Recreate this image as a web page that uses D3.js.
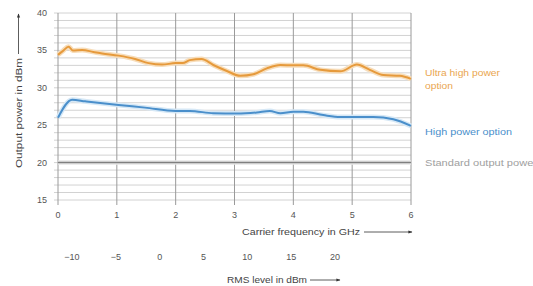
<!DOCTYPE html>
<html>
<head>
<meta charset="utf-8">
<script src="https://cdn.jsdelivr.net/npm/d3@7"></script>
<style>
    body { margin: 0; background: #fff; }
    svg text { font-family: 'Liberation Sans', Arial, sans-serif; }
</style>
</head>
<body>
<svg id="chart" width="533" height="286"></svg>
<script>
// data
let ultraFreq = [0, 0.08, 0.18, 0.25, 0.41, 0.6, 0.75, 1.03, 1.31, 1.54, 1.77, 2.0, 2.12, 2.24, 2.44, 2.64, 2.87, 3.1, 3.32, 3.55, 3.78, 4.0, 4.17, 4.46, 4.8, 5.08, 5.3, 5.53, 5.81, 6.0]
let ultraPower = [34.4, 34.9, 35.5, 35.0, 35.05, 34.8, 34.6, 34.3, 33.85, 33.3, 33.1, 33.3, 33.3, 33.7, 33.85, 33.05, 32.25, 31.6, 31.8, 32.6, 33.05, 33.0, 33.0, 32.4, 32.2, 33.1, 32.4, 31.7, 31.6, 31.2]
let highFreq = [0, 0.24, 0.46, 1.03, 1.48, 2.0, 2.24, 2.64, 3.04, 3.38, 3.6, 3.78, 4.0, 4.17, 4.51, 4.8, 5.36, 5.7, 6.0]
let highPower = [26.0, 28.4, 28.2, 27.7, 27.35, 26.9, 26.9, 26.6, 26.55, 26.7, 26.9, 26.6, 26.8, 26.8, 26.35, 26.1, 26.1, 25.8, 24.9]
let standardFreq = [0, 6]
let standardPower = [20, 20]
let freqTicks = [0, 1, 2, 3, 4, 5, 6]
let powerTicks = [15, 20, 25, 30, 35, 40]
let rmsTicks = [-10, -5, 0, 5, 10, 15, 20]

let svg = d3.select('#chart')
let x = d3.scaleLinear().domain([0, 6]).range([58, 411])
let y = d3.scaleLinear().domain([15, 40]).range([200, 13])
let rms = d3.scaleLinear().domain([-10, 20]).range([72, 335])

// arrow marker
svg.append('defs').append('marker')
    .attr('id', 'arrow').attr('viewBox', '0 0 10 10')
    .attr('refX', 9).attr('refY', 5)
    .attr('markerWidth', 7).attr('markerHeight', 5)
    .attr('orient', 'auto')
    .append('path').attr('d', 'M0,1 L10,5 L0,9 Z').attr('fill', '#333')

// horizontal grid every 1 dB
let grid = svg.append('g')
grid.selectAll('line.h').data(d3.range(15, 41)).join('line')
    .attr('x1', 54).attr('x2', x(6))
    .attr('y1', d => y(d)).attr('y2', d => y(d))
    .attr('stroke', '#d2d2d2').attr('stroke-width', 1)
// vertical grid at each GHz
grid.selectAll('line.v').data(freqTicks).join('line')
    .attr('x1', d => x(d)).attr('x2', d => x(d))
    .attr('y1', y(40)).attr('y2', y(15) + 5)
    .attr('stroke', '#9a9a9a').attr('stroke-width', 1)

// y tick labels
svg.append('g').selectAll('text').data(powerTicks).join('text')
    .attr('x', 47).attr('y', d => y(d) + 3)
    .attr('text-anchor', 'end').attr('font-size', 9).attr('fill', '#555')
    .text(d => d)

// x tick labels
svg.append('g').selectAll('text').data(freqTicks).join('text')
    .attr('x', d => x(d)).attr('y', 218)
    .attr('text-anchor', 'middle').attr('font-size', 9).attr('fill', '#555')
    .text(d => d)

// rms tick labels
svg.append('g').selectAll('text').data(rmsTicks).join('text')
    .attr('x', d => rms(d)).attr('y', 260)
    .attr('text-anchor', 'middle').attr('font-size', 9).attr('fill', '#555')
    .text(d => d < 0 ? '\u2212' + Math.abs(d) : d)

// axis titles with arrows
svg.append('text').attr('x', 242).attr('y', 235).attr('font-size', 9).attr('fill', '#444')
    .attr('textLength', 118).attr('lengthAdjust', 'spacingAndGlyphs')
    .text('Carrier frequency in GHz')
svg.append('line').attr('x1', 364).attr('x2', 412).attr('y1', 232).attr('y2', 232)
    .attr('stroke', '#333').attr('stroke-width', 0.8).attr('marker-end', 'url(#arrow)')
svg.append('text').attr('x', 227).attr('y', 283).attr('font-size', 9).attr('fill', '#444')
    .attr('textLength', 80).attr('lengthAdjust', 'spacingAndGlyphs')
    .text('RMS level in dBm')
svg.append('line').attr('x1', 310).attr('x2', 340).attr('y1', 280).attr('y2', 280)
    .attr('stroke', '#333').attr('stroke-width', 0.8).attr('marker-end', 'url(#arrow)')
svg.append('text').attr('transform', 'translate(22,168) rotate(-90)')
    .attr('font-size', 9.5).attr('fill', '#444')
    .attr('textLength', 110).attr('lengthAdjust', 'spacingAndGlyphs')
    .text('Output power in dBm')
svg.append('line').attr('x1', 18.5).attr('x2', 18.5).attr('y1', 54).attr('y2', 14)
    .attr('stroke', '#333').attr('stroke-width', 0.8).attr('marker-end', 'url(#arrow)')

// series
let line = d3.line().x(d => x(d[0])).y(d => y(d[1])).curve(d3.curveMonotoneX)
function drawSeries(fx, py, color, halo, width) {
    let pts = fx.map((f, i) => [f, py[i]])
    svg.append('path').datum(pts).attr('d', line)
        .attr('fill', 'none').attr('stroke', halo).attr('stroke-width', width + 3)
        .attr('stroke-linejoin', 'round')
    svg.append('path').datum(pts).attr('d', line)
        .attr('fill', 'none').attr('stroke', color).attr('stroke-width', width)
        .attr('stroke-linejoin', 'round')
}
drawSeries(standardFreq, standardPower, '#7f7f7f', '#e6e6e6', 1.5)
drawSeries(highFreq, highPower, '#4a8fcb', '#d6e8f6', 2)
drawSeries(ultraFreq, ultraPower, '#e69a3c', '#f7ddba', 2)

// series labels
let labels = svg.append('g').attr('font-size', 9).attr('lengthAdjust', 'spacingAndGlyphs')
labels.append('text').attr('x', 425).attr('y', 76).attr('fill', '#eaa650')
    .attr('textLength', 75).attr('lengthAdjust', 'spacingAndGlyphs').text('Ultra high power')
labels.append('text').attr('x', 425).attr('y', 89).attr('fill', '#eaa650')
    .attr('textLength', 28).attr('lengthAdjust', 'spacingAndGlyphs').text('option')
labels.append('text').attr('x', 425).attr('y', 135).attr('fill', '#4a8fcb')
    .attr('textLength', 87).attr('lengthAdjust', 'spacingAndGlyphs').text('High power option')
labels.append('text').attr('x', 425).attr('y', 166).attr('fill', '#a0a0a0')
    .attr('textLength', 112).attr('lengthAdjust', 'spacingAndGlyphs').text('Standard output power')
</script>
</body>
</html>
